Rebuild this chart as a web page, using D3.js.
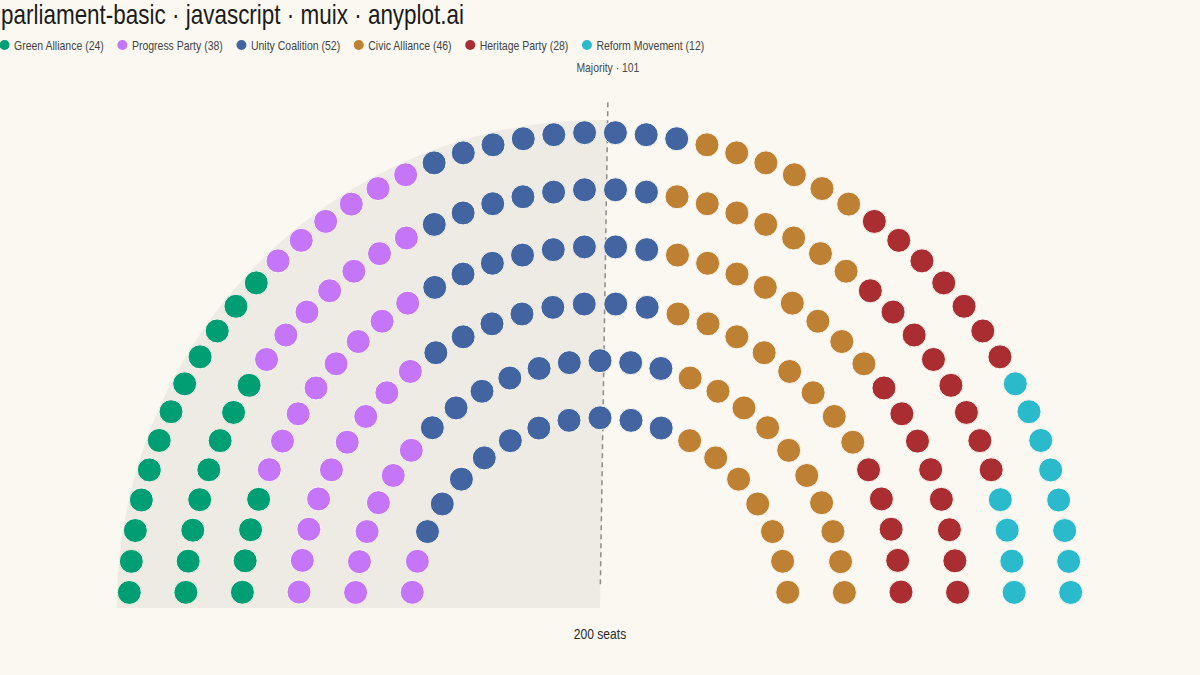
<!DOCTYPE html>
<html>
<head>
<meta charset="utf-8">
<script src="https://cdn.jsdelivr.net/npm/d3@7"></script>
<style>
  html, body { margin: 0; padding: 0; background: #FAF8F1; }
  svg { display: block; }
  text { font-family: 'Liberation Sans Narrow', 'Arial Narrow', 'Liberation Sans', Arial, sans-serif; }
</style>
</head>
<body>
<svg id="chart" width="1200" height="675"></svg>
<script>
// ---- data ----
const parties = ["Green Alliance", "Progress Party", "Unity Coalition", "Civic Alliance", "Heritage Party", "Reform Movement"];
const seats = [24, 38, 52, 46, 28, 12];
const colors = ["#009E73", "#C475F8", "#4265A2", "#BE8134", "#AA2D31", "#2ABACC"];
const rowRadii = [1.00, 0.88, 0.76, 0.64, 0.52, 0.40];
const rowSeats = [48, 42, 36, 30, 25, 19];
const totalSeats = 200;
const majority = 101;
const titleText = "parliament-basic · javascript · muix · anyplot.ai";

// ---- setup ----
const W = 1200, H = 675;
const NARROW = 0.832; // horizontal squeeze to mimic a narrow sans face
const svg = d3.select("#chart");
svg.append("rect").attr("width", W).attr("height", H).attr("fill", "#FAF8F1");

const x = d3.scaleLinear().domain([-1, 1]).range([129.05, 1070.95]);
const y = d3.scaleLinear().domain([0, 1]).range([608, 132.4]);
const seatR = x(0.0255) - x(0);

function narrowText(parent, tx, ty, s, str, size, fill, anchor) {
  const g = parent.append("g").attr("transform", `translate(${tx},${ty}) scale(${s},1)`);
  const t = g.append("text").attr("x", 0).attr("y", 0)
    .attr("font-size", size).attr("fill", fill)
    .attr("text-anchor", anchor || "start").text(str);
  return t.node().getComputedTextLength() * s;
}

// ---- seat positions ----
let allSeats = [];
rowSeats.forEach((n, ri) => {
  const r = rowRadii[ri];
  for (let k = 0; k < n; k++) {
    const th = Math.PI * (k + 0.5) / n; // from left
    allSeats.push({ row: ri, dx: -r * Math.cos(th), dy: r * Math.sin(th) });
  }
});
allSeats.sort((a, b) => (a.dx - b.dx) || (a.row - b.row));
let idx = 0;
seats.forEach((s, pi) => { for (let i = 0; i < s; i++) allSeats[idx++].party = pi; });

// ---- majority wedge ----
const phi = Math.PI * (1 - majority / totalSeats); // angle from +x axis
const wedgeR = 1.026;
const angles = d3.range(0, 121).map(i => Math.PI - (Math.PI - phi) * i / 120);
const wedgePts = [[0, 0]].concat(angles.map(a => [wedgeR * Math.cos(a), wedgeR * Math.sin(a)])).concat([[0, 0]]);
svg.append("path")
  .attr("d", d3.line().x(d => x(d[0])).y(d => y(d[1]))(wedgePts))
  .attr("fill", "#EDEBE4");

// ---- majority line ----
svg.append("line")
  .attr("x1", x(0.05 * Math.cos(phi))).attr("y1", y(0.05 * Math.sin(phi)))
  .attr("x2", x(1.065 * Math.cos(phi))).attr("y2", y(1.065 * Math.sin(phi)))
  .attr("stroke", "#8c8c8c").attr("stroke-width", 1.5).attr("stroke-dasharray", "5,4");

narrowText(svg, x(1.065 * Math.cos(phi)), 72, NARROW, `Majority · ${majority}`, 12.5, "#4a4a4a", "middle");

// ---- seats ----
svg.append("g").selectAll("circle").data(allSeats).join("circle")
  .attr("cx", d => x(d.dx)).attr("cy", d => y(d.dy)).attr("r", seatR)
  .attr("fill", d => colors[d.party])
  .attr("stroke", "#FAF8F1").attr("stroke-width", 1);

// ---- total label ----
narrowText(svg, 600, 639, 0.865, `${totalSeats} seats`, 14, "#2a2a2a", "middle");

// ---- title ----
narrowText(svg, 1, 24, NARROW, titleText, 27, "#1c1c1c");

// ---- legend ----
const lg = svg.append("g");
let lx = 4.5;
parties.forEach((p, i) => {
  lg.append("circle").attr("cx", lx).attr("cy", 45).attr("r", 5).attr("fill", colors[i]);
  const w = narrowText(lg, lx + 9.5, 49.5, 0.84, `${p} (${seats[i]})`, 12.5, "#444");
  lx = lx + 9.5 + w + 18.6;
});
</script>
</body>
</html>
